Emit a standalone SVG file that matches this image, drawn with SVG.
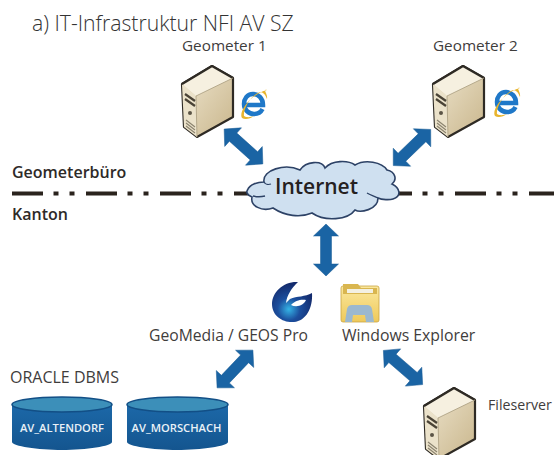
<svg xmlns="http://www.w3.org/2000/svg" width="554" height="455" viewBox="0 0 554 455">
<style>
text{font-family:"Open Sans","Noto Sans","Liberation Sans",sans-serif;fill:#3f3d3c}
.l{font-size:15.300px}
.m{font-size:16px}
.b{font-size:16px;font-weight:600;fill:#2e2a28}
.db{font-size:11.200px;font-weight:600;fill:#e9f1f7;text-anchor:middle}
.arrow{fill:#1a64a4;stroke:#165a94;stroke-width:.5}
.dash{stroke:#2a231d;stroke-width:4;stroke-dasharray:31 10.500 5 11 5 11.500;fill:none}
</style>
<defs>
<linearGradient id="side" x1="0" y1="0" x2="1" y2="1"><stop offset="0" stop-color="#efe6d0"/><stop offset="1" stop-color="#c9b68c"/></linearGradient>
<linearGradient id="cyl" x1="0" y1="0" x2="0" y2="1"><stop offset="0" stop-color="#1c68a8"/><stop offset="1" stop-color="#14558f"/></linearGradient>
<linearGradient id="folder" x1="0" y1="0" x2="0" y2="1"><stop offset="0" stop-color="#fbe89e"/><stop offset="1" stop-color="#eec95a"/></linearGradient>
<radialGradient id="geo" cx=".42" cy=".68" r=".62"><stop offset="0" stop-color="#35b4e6"/><stop offset=".45" stop-color="#1c4f9e"/><stop offset="1" stop-color="#142c6e"/></radialGradient>
<path id="dbl" d="M-26 0L-14 -12.500L-14 -5.500L14 -5.500L14 -12.500L26 0L14 12.500L14 5.500L-14 5.500L-14 12.500Z"/>
<g id="srv">
<path d="M30 0L51 12L51 51L15 71L2 61L0 18Z" fill="url(#side)" stroke="#2e2a24" stroke-width="2.200" stroke-linejoin="round"/>
<path d="M0 18L30 0L51 12L14 30Z" fill="#f6f0e0"/>
<path d="M0 18L14 30L15 71L2 61Z" fill="#ebe2ca"/>
<path d="M0 18L30 0L51 12" fill="none" stroke="#2e2a24" stroke-width="2.200" stroke-linejoin="round"/>
<path d="M14 30L51 12M14 30L15 71" fill="none" stroke="#a89c7e" stroke-width=".8"/>
<path d="M3 28L13 35M3 33L13 40" stroke="#4a4336" stroke-width="2.200" fill="none"/>
<circle cx="8" cy="47" r="2" fill="#5b5446"/>
<path d="M4 54L13 61M4 57L13 64M4 60L13 67" stroke="#8c8470" stroke-width="1.200" fill="none"/>
</g>
<g id="ie">
<path d="M-9 1H9C9 -6 4 -10 -1 -10C-7 -10 -10 -5 -10 0C-10 6 -5 10 0 10C4 10 7 8 8.500 5" fill="none" stroke="#1f78c8" stroke-width="4.500"/>
<path d="M-12 14C-16 8 -3 -10 13 -14C8 -15 14 -11 13 -5C11 -10 9 -12 6 -12C-3 -9 -11 5 -10 12C-7 14 -3 13 0 12C-4 15 -9 16 -12 14Z" fill="#e8b52e"/>
</g>
</defs>

<g id="connectors">
<line class="dash" x1="12" y1="193.500" x2="250" y2="193.500"/>
<line class="dash" x1="381" y1="193.500" x2="554" y2="193.500"/>
<use href="#dbl" class="arrow" transform="translate(243.500 146.500) rotate(42)"/>
<use href="#dbl" class="arrow" transform="translate(412 147.500) rotate(-44)"/>
<use href="#dbl" class="arrow" transform="translate(326 250) rotate(90)"/>
<use href="#dbl" class="arrow" transform="translate(235 369) rotate(-46.500)"/>
<use href="#dbl" class="arrow" transform="translate(403 367.500) rotate(41)"/>
</g>

<g id="title"><text x="32" y="31" style="font-size:21.200px;font-weight:300;fill:#333">a) IT-Infrastruktur NFI AV SZ</text></g>
<g id="label-geometerbuero"><text class="b" x="12" y="178">Geometerbüro</text></g>
<g id="label-kanton"><text class="b" x="12" y="220">Kanton</text></g>

<g id="geometer1"><text class="l" x="182" y="51">Geometer 1</text><use href="#srv" x="182" y="66"/><use href="#ie" x="254" y="104"/></g>
<g id="geometer2"><text class="l" x="433" y="51">Geometer 2</text><use href="#srv" x="433" y="66"/><use href="#ie" x="507" y="102"/></g>

<g id="internet">
<path d="M247.500 190C250 184 258 182 264 182C262 170 285 163 300 170C306 161 322 160 325 168C332 160 348 160 355 165C365 159 382 162 387 170C396 172 397 180 392 184C400 188 402 196 393 199C390 200 382 200 378 198C378 210 360 213 355 210C348 220 325 222 312 213C300 218 285 216 273 208C262 212 250 206 252 197C247 195 246 192 247.500 190Z" fill="#cfe0f0" stroke="#2d4266" stroke-width="1.600"/>
<path d="M264 182C265 184 268 185 271 184M253 196C257 197 261 197 265 196M378 198C374 196 370 195 367 193" fill="none" stroke="#2d4266" stroke-width="1.300"/>
<text x="316.500" y="194" text-anchor="middle" style="font-size:21px;font-weight:600;fill:#25211f">Internet</text>
</g>

<g id="geomedia">
<path d="M298 282C284 281 272 292 272 304C272 316 283 323 294 322C306 321 313 308 312 293C305 297 297 296 290 299L286 303C287 295 291 289 298 282Z" fill="url(#geo)"/>
<path d="M291 305C295 300 302 299 306 300C304 305 297 308 291 305Z" fill="#fff"/>
<text class="m" x="149" y="341" style="font-size:15.700px">GeoMedia / GEOS Pro</text>
</g>
<g id="explorer">
<rect x="341" y="286" width="38" height="36" rx="2" fill="url(#folder)" stroke="#c9a544" stroke-width=".8"/>
<path d="M343 284H358L361 288H377V294H343Z" fill="#d9b650"/>
<path d="M347 289H373V293H347Z" fill="#f3f0e2"/>
<path d="M345 322L347 309Q348 305 352 305H367Q371 305 372 309L374 322H366L365 315H353L352 322Z" fill="#9bb8cf"/>
<text class="m" x="342" y="341" style="font-size:15.800px">Windows Explorer</text>
</g>

<g id="oracle-label"><text class="m" x="10" y="383">ORACLE DBMS</text></g>
<g id="db1">
<path d="M12 405V442C12 446 38 450 62 450C86 450 112 446 112 442V405Z" fill="url(#cyl)"/>
<ellipse cx="62" cy="404.500" rx="50" ry="7.500" fill="#3c8fb9" stroke="#124f86" stroke-width="1.500"/>
<text class="db" x="62" y="432">AV_ALTENDORF</text>
</g>
<g id="db2">
<path d="M127 405V442C127 446 153 450 177 450C201 450 228 446 228 442V405Z" fill="url(#cyl)"/>
<ellipse cx="177.500" cy="404.500" rx="50.500" ry="7.500" fill="#3c8fb9" stroke="#124f86" stroke-width="1.500"/>
<text class="db" x="176.500" y="432">AV_MORSCHACH</text>
</g>
<g id="fileserver"><use href="#srv" x="424" y="388"/><text x="488" y="410" style="font-size:14.200px">Fileserver</text></g>
</svg>
